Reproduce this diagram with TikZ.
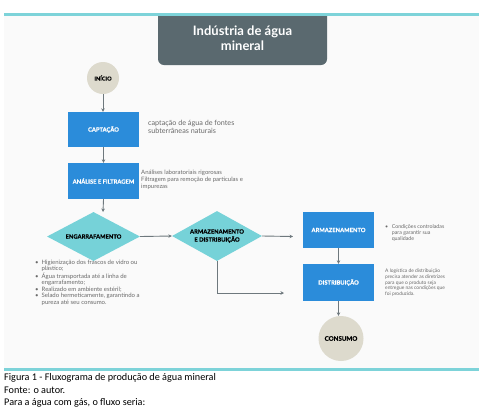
\documentclass[tikz,border=0pt]{standalone}
\usepackage{fontspec}
\setmainfont{Lato}
\newfontfamily\capfont{Carlito}
\newfontfamily\labfont{Lato}[BoldFeatures={FakeBold=0.5}]
\usetikzlibrary{shapes.geometric,arrows.meta}
\definecolor{tealine}{RGB}{125,211,217}
\definecolor{titlec}{RGB}{90,105,111}
\definecolor{circc}{RGB}{221,218,205}
\definecolor{boxc}{RGB}{43,140,218}
\definecolor{diac}{RGB}{118,210,216}
\definecolor{arrc}{RGB}{110,120,125}
\definecolor{txtc}{RGB}{105,105,105}
\definecolor{panelc}{RGB}{250,250,250}
\newcommand{\fs}[2]{\fontsize{#1}{#2}\selectfont}
\tikzset{
  circnode/.style={circle,fill=circc,inner sep=0pt,font=\labfont\bfseries\fs{5.5}{6},text=black},
  bluebox/.style={rectangle,fill=boxc,inner sep=0pt,minimum width=71pt,text=white,font=\labfont\bfseries\fs{5.8}{6.5}},
  dianode/.style={diamond,fill=diac,inner sep=0pt,aspect=2,text=black,font=\labfont\bfseries\fs{5.8}{8},align=center},
  arr/.style={draw=arrc,line width=0.9pt,-{Stealth[length=3.5pt,width=3.5pt]}},
  note/.style={inner sep=0pt,text=txtc,align=left},
  capline/.style={anchor=west,inner sep=0pt,font=\capfont\fs{10.2}{12}}
}
\begin{document}
\begin{tikzpicture}[x=1pt,y=-1pt]
\useasboundingbox (0,0) rectangle (481,416);
\fill[white] (0,0) rectangle (481,416);
\fill[panelc] (4,14) rectangle (479,369);
% title
\node[fill=titlec,rounded corners=6pt,minimum width=169pt,minimum height=60pt,inner sep=0pt] (titlebox) at (242.5,35) {};
\fill[white] (0,0) rectangle (481,13.5);
\draw[tealine,line width=2.4pt] (4,14.5) -- (479,14.5);
\draw[tealine,line width=2.4pt] (4,369.5) -- (479,369.5);
\node[text=white,font=\bfseries\fs{13}{15},align=center] (title) at (242.5,38.5) {Indústria de água\\mineral};
% nodes
\node[circnode,minimum size=32pt] (inicio) at (103,78) {INÍCIO};
\node[bluebox,minimum height=35pt] (capt) at (103.5,129.5) {CAPTAÇÃO};
\node[bluebox,minimum height=36pt] (anal) at (103.5,181) {ANÁLISE E FILTRAGEM};
\node[dianode,minimum width=93pt,minimum height=49pt] (eng) at (93.5,236.5) {ENGARRAFAMENTO};
\node[dianode,minimum width=90pt,minimum height=50pt] (armd) at (217,236) {ARMAZENAMENTO\\E DISTRIBUIÇÃO};
\node[bluebox,minimum height=36pt] (arm) at (338.5,230) {ARMAZENAMENTO};
\node[bluebox,minimum height=37pt] (dist) at (338.5,282.5) {DISTRIBUIÇÃO};
\node[circnode,minimum size=45pt,font=\labfont\bfseries\fs{6.2}{7}] (cons) at (341,338.5) {CONSUMO};
% notes
\node[note,anchor=west,font=\fs{7.2}{8.5}] (ncapt) at (148,127) {captação de água de fontes\\subterrâneas naturais};
\node[note,anchor=west,font=\fs{6}{7}] (nanal) at (141,180) {Análises laboratoriais rigorosas\\Filtragem para remoção de particulas e\\impurezas};
\node[note,anchor=north west,font=\fs{6}{6.5}] (neng) at (35,259.5) {%
\begin{tabular}{@{}l@{\hspace{3pt}}l@{}}
\textbullet & Higienização dos frascos de vidro ou\\
 & plástico;\\
\textbullet & Água transportada até a linha de\\
 & engarrafamento;\\
\textbullet & Realizado em ambiente estéril;\\
\textbullet & Selado hermeticamente, garantindo a\\
 & pureza até seu consumo.
\end{tabular}};
\node[note,anchor=north west,font=\fs{5.3}{6}] (narm) at (385,224) {%
\begin{tabular}{@{}l@{\hspace{3.5pt}}l@{}}
\textbullet & Condições controladas\\
 & para garantir sua\\
 & qualidade
\end{tabular}};
\node[note,anchor=north west,font=\fs{4.9}{5.6}] (ndist) at (385,269) {A logística de distribuição\\precisa atender as diretrizes\\para que o produto seja\\entregue nas condições que\\foi produzida.};
% caption
\node[capline] (cap1) at (4,377.5) {Figura 1 - Fluxograma de produção de água mineral};
\node[capline] (cap2) at (4,390) {Fonte: o autor.};
\node[capline] (cap3) at (4,402.5) {Para a água com gás, o fluxo seria:};
% connectors
\coordinate (e1) at (103,212);
\coordinate (a2) at (293,236.5);
\coordinate (a3) at (284,293);
\draw[arr] (inicio.south) -- (inicio.south |- capt.north);
\draw[arr] (capt.south) -- (anal.north);
\draw[arr] (anal.south) -- (e1);
\draw[arr] (eng.east) -- (armd.west);
\draw[arr] (armd.east) -- (a2);
\draw[arr] (arm.south) -- (dist.north);
\draw[arr] (armd.south) |- (a3);
\draw[arr] (dist.south) -- (dist.south |- cons.north);
\end{tikzpicture}
\end{document}
